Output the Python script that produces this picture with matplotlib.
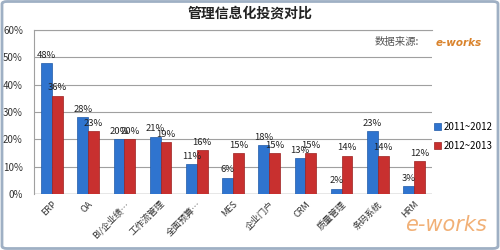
import numpy as np
import matplotlib
matplotlib.use("Agg")
from matplotlib import pyplot as plt
from matplotlib.patches import FancyBboxPatch

plt.rcParams['font.family'] = ['Noto Sans CJK SC', 'DejaVu Sans']

# data
categories = ['ERP', 'OA', 'BI/企业绩…', '工作流管理', '全面预算…', 'MES',
              '企业门户', 'CRM', '质量管理', '条码系统', 'HRM']
share_2011 = [48, 28, 20, 21, 11, 6, 18, 13, 2, 23, 3]
share_2012 = [36, 23, 20, 19, 16, 15, 15, 15, 14, 14, 12]
series_names = ['2011~2012', '2012~2013']
yticks = [0, 10, 20, 30, 40, 50, 60]

fig = plt.figure(figsize=(5, 2.5), dpi=100)
fig.patch.set_facecolor('white')

# outer frame of the picture
frame = FancyBboxPatch((0.004, 0.006), 0.992, 0.988, boxstyle='round,pad=0,rounding_size=0.01',
                       transform=fig.transFigure, fill=False, edgecolor='#9fb0c4', linewidth=2.0)
fig.patches.append(frame)

ax = fig.add_axes([0.068, 0.224, 0.796, 0.656])
x = np.arange(len(categories))
w = 0.3
b1 = ax.bar(x - w / 2, share_2011, w, color='#2f74cf', edgecolor='#1f5aa8', linewidth=0.5,
            label=series_names[0], zorder=3)
b2 = ax.bar(x + w / 2, share_2012, w, color='#c8302f', edgecolor='#9c2020', linewidth=0.5,
            label=series_names[1], zorder=3)

for bars, vals in ((b1, share_2011), (b2, share_2012)):
    for r, v in zip(bars, vals):
        ax.text(r.get_x() + r.get_width() / 2, v + 1.2, f'{v}%', ha='center', va='bottom',
                fontsize=6.8, color='#222222', zorder=4)

ax.set_xlim(-0.5, len(categories) - 0.5)
ax.set_ylim(0, 60)
ax.set_yticks(yticks)
ax.set_yticklabels([f'{t}%' for t in yticks], fontsize=7, color='#333333')
ax.set_xticks(x)
ax.set_xticklabels(categories, rotation=45, ha='right', va='top', fontsize=6.5,
                   rotation_mode='anchor', color='#333333')
ax.tick_params(axis='x', length=0, pad=4)
ax.tick_params(axis='y', length=0, pad=8)
ax.yaxis.grid(True, color='#a0a0a0', linewidth=0.8, zorder=0)
for s in ['right', 'bottom']:
    ax.spines[s].set_visible(False)
ax.spines['top'].set_color('#a0a0a0')
ax.spines['left'].set_color('#a0a0a0')
ax.axhline(0, color='#a0a0a0', linewidth=1.0, zorder=2)

fig.text(0.5, 0.945, '管理信息化投资对比', ha='center', va='center', fontsize=10,
         fontweight='bold', color='#222222')
fig.text(0.75, 0.83, '数据来源:', ha='left', va='center', fontsize=7.5, color='#555555')
fig.text(0.872, 0.83, 'e-works', ha='left', va='center', fontsize=7.5, fontweight='bold',
         style='italic', color='#d9822b', family='DejaVu Sans')

fig.legend(handles=[b1, b2], loc='center left', bbox_to_anchor=(0.868, 0.455), frameon=False,
           fontsize=7, handlelength=0.7, handleheight=0.7, handletextpad=0.3,
           labelspacing=0.9, borderpad=0, borderaxespad=0)

# big watermark logo, bottom right
fig.text(0.81, 0.1, 'e-works', ha='left', va='center', fontsize=15, style='italic',
         color='#f0a868', family='DejaVu Sans', alpha=0.9)

fig.savefig('out.png', dpi=100, facecolor='white')
